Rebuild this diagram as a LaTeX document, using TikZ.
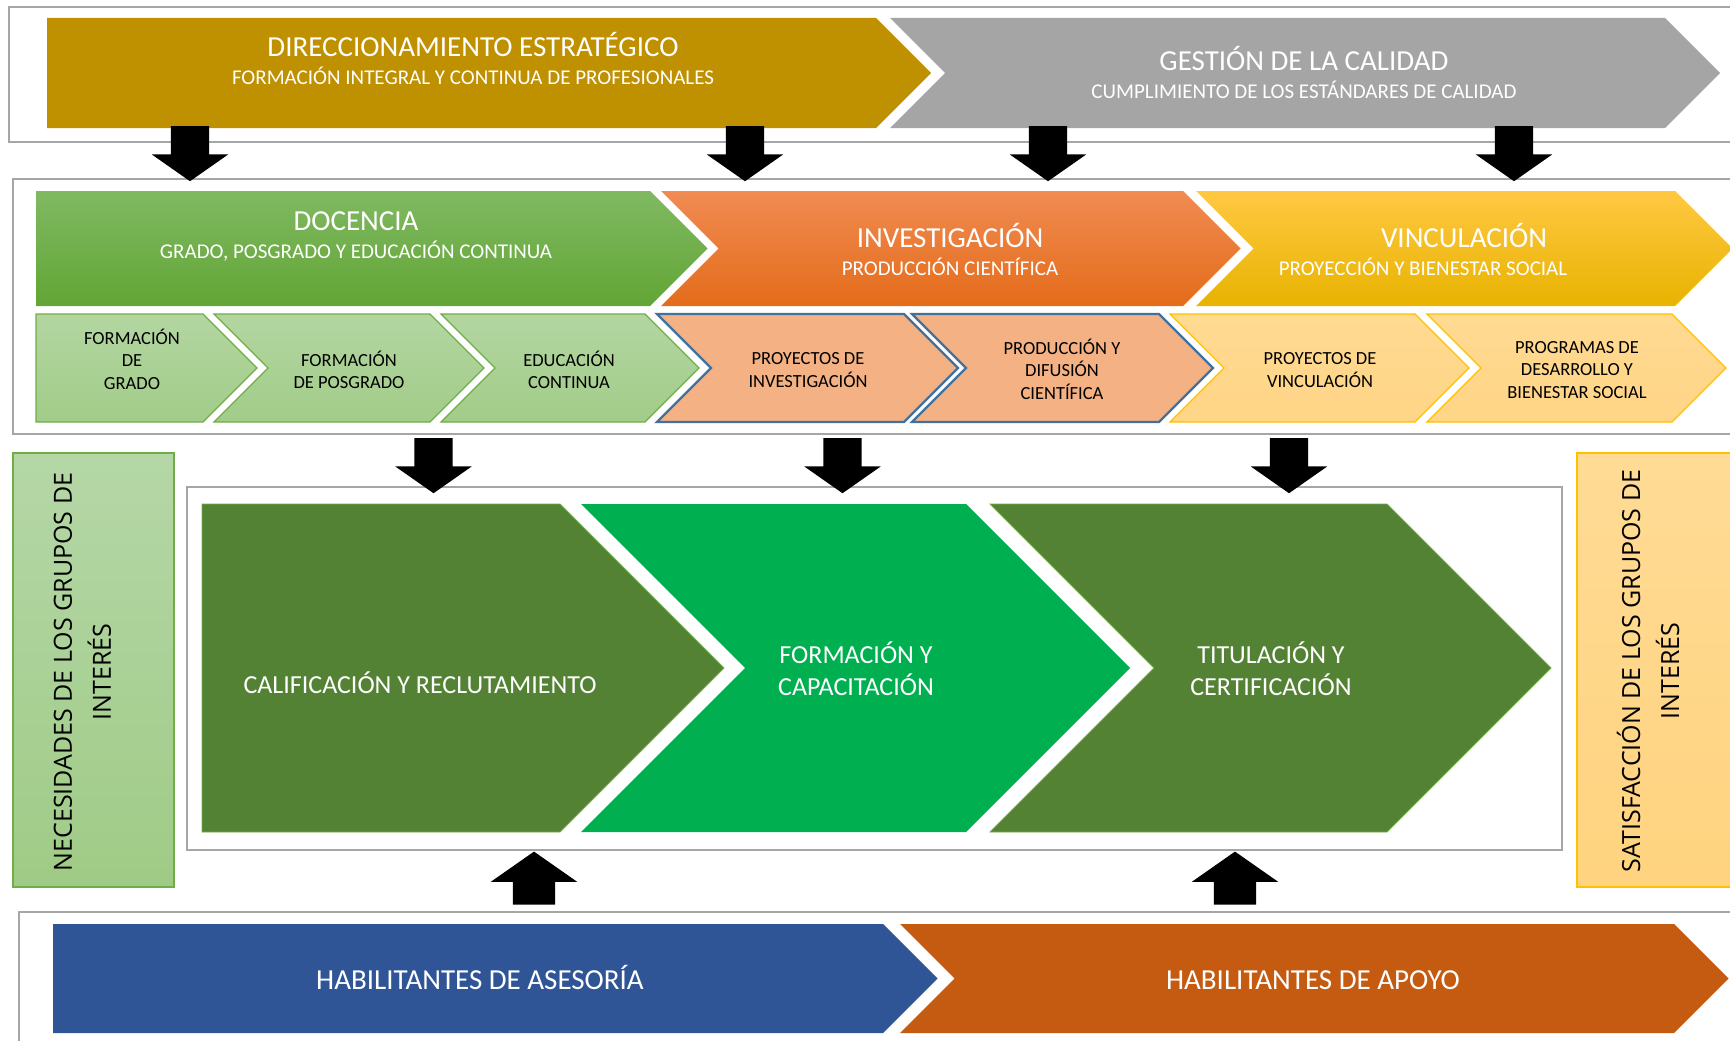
\documentclass[tikz,border=0pt]{standalone}
\usepackage{fontspec}
\setmainfont{Carlito}
\newfontfamily\sidefont{Open Sans}
\usetikzlibrary{shapes.arrows}

\definecolor{panelGray}{HTML}{A6A6A6}
\definecolor{goldD}{HTML}{BF9000}
\definecolor{grayQ}{HTML}{A5A5A5}
\definecolor{docTop}{HTML}{80B962}
\definecolor{docBot}{HTML}{62A535}
\definecolor{invTop}{HTML}{F08B52}
\definecolor{invMid}{HTML}{F47B2C}
\definecolor{invBot}{HTML}{E46C1A}
\definecolor{vinTop}{HTML}{FFC843}
\definecolor{vinMid}{HTML}{FFC000}
\definecolor{vinBot}{HTML}{E8B300}
\definecolor{subGTop}{HTML}{B3D6A1}
\definecolor{subGBot}{HTML}{A2CC89}
\definecolor{greenLine}{HTML}{70AD47}
\definecolor{subO}{HTML}{F4B183}
\definecolor{blueLine}{HTML}{41719C}
\definecolor{subYTop}{HTML}{FFDA92}
\definecolor{subYBot}{HTML}{FFD586}
\definecolor{yellowLine}{HTML}{FFC000}
\definecolor{oliveG}{HTML}{548235}
\definecolor{brightG}{HTML}{00B050}
\definecolor{blueB}{HTML}{2F5597}
\definecolor{orangeB}{HTML}{C55A11}
\definecolor{needTop}{HTML}{B5D7A7}
\definecolor{needBot}{HTML}{9FCB86}
\definecolor{satTop}{HTML}{FFDB95}
\definecolor{satBot}{HTML}{FFD37F}

% flat-left arrow band: x left, x end of body, y top, y bottom
\newcommand{\homeshape}[5][]{%
  \path[#1] (#2,#4) -- (#3,#4) -- ({#3+(#5-#4)/2},{(#4+#5)/2}) -- (#3,#5) -- (#2,#5) -- cycle;}
% notched band
\newcommand{\chevshape}[5][]{%
  \path[#1] (#2,#4) -- (#3,#4) -- ({#3+(#5-#4)/2},{(#4+#5)/2}) -- (#3,#5) -- (#2,#5)
    -- ({#2+(#5-#4)/2},{(#4+#5)/2}) -- cycle;}
\newcommand{\subtxt}{\fontsize{21}{28}\selectfont}

\begin{document}
\begin{tikzpicture}[x=1pt, y=-1pt,
  panel/.style={draw=panelGray, line width=2.5pt},
  title/.style={text=white, align=center, inner sep=0, font=\fontsize{29}{28}\selectfont},
  item/.style={align=center, inner sep=0, font=\fontsize{18.5}{22.5}\selectfont},
  stage/.style={text=white, align=center, inner sep=0, font=\fontsize{26}{32}\selectfont},
  side/.style={rotate=90, align=center, inner sep=0, font=\sidefont\fontsize{25}{39}\selectfont},
  subG/.style={top color=subGTop, bottom color=subGBot, draw=greenLine, line width=1.2pt},
  subOr/.style={fill=subO, draw=blueLine, line width=2.2pt},
  subY/.style={top color=subYTop, bottom color=subYBot, draw=yellowLine, line width=1.2pt},
  blk/.style={single arrow, draw=none, inner sep=0, single arrow tip angle=110, fill=black},
  down/.style={blk, rotate=-90, minimum height=55, inner ysep=19, single arrow head extend=19},
  up/.style={blk, rotate=90, minimum height=53, inner ysep=21, single arrow head extend=22}
]
  \useasboundingbox (0,0) rectangle (1730,1041);

  % frames
  \draw[panel] (9,7) rectangle (1745,142);
  \draw[panel] (13,179) rectangle (1745,434);
  \draw[panel] (187,487) rectangle (1562,850);
  \draw[panel] (19,912) rectangle (1745,1050);

  % strategic band
  \homeshape[fill=goldD]{47}{876}{18}{128}
  \chevshape[fill=grayQ]{890}{1665}{18}{128}
  \node[title] (dir) at (473,58.5) {DIRECCIONAMIENTO ESTRATÉGICO\\\subtxt FORMACIÓN INTEGRAL Y CONTINUA DE PROFESIONALES};
  \node[title] (cal) at (1304,72.5) {GESTIÓN DE LA CALIDAD\\\subtxt CUMPLIMIENTO DE LOS ESTÁNDARES DE CALIDAD};

  % substantive functions
  \homeshape[top color=docTop, bottom color=docBot]{36}{650}{191}{306}
  \chevshape[top color=invTop, middle color=invMid, bottom color=invBot]{661}{1183}{191}{306}
  \chevshape[top color=vinTop, middle color=vinMid, bottom color=vinBot]{1196}{1675}{191}{306}
  \node[title] (doc) at (356,236) {DOCENCIA\\\subtxt GRADO, POSGRADO Y EDUCACIÓN CONTINUA};
  \node[title] (inv) at (950,249) {INVESTIGACIÓN\\\subtxt PRODUCCIÓN CIENTÍFICA};
  \node[title] (vin) at (1464,249) {VINCULACIÓN\\\subtxt PROYECCIÓN Y BIENESTAR SOCIAL\hspace*{82pt}};

  \homeshape[subG]{36}{203}{314}{422}
  \chevshape[subG]{214}{430}{314}{422}
  \chevshape[subG]{441}{645}{314}{422}
  \chevshape[subOr]{657}{904}{314}{422}
  \chevshape[subOr]{912}{1159}{314}{422}
  \chevshape[subY]{1170}{1415}{314}{422}
  \chevshape[subY]{1427}{1672}{314}{422}
  \node[item] (grado) at (132,359) {FORMACIÓN\\DE\\GRADO};
  \node[item] (posg) at (349,370) {FORMACIÓN\\DE POSGRADO};
  \node[item] (educ) at (569,370) {EDUCACIÓN\\CONTINUA};
  \node[item] (pinv) at (808,370) {PROYECTOS DE\\INVESTIGACIÓN};
  \node[item] (difu) at (1062,369) {PRODUCCIÓN Y\\DIFUSIÓN\\CIENTÍFICA};
  \node[item] (pvin) at (1320,370) {PROYECTOS DE\\VINCULACIÓN};
  \node[item] (prog) at (1577,370) {PROGRAMAS DE\\DESARROLLO Y\\BIENESTAR SOCIAL};

  % stakeholders
  \path[top color=needTop, bottom color=needBot, draw=greenLine, line width=1.2pt] (13,453) rectangle (174,887);
  \path[top color=satTop, bottom color=satBot, draw=yellowLine, line width=1.2pt] (1577,453) rectangle (1745,887);
  \node[side] (need) at (82.5,672) {NECESIDADES DE LOS GRUPOS DE\\INTERÉS};
  \node[side] (sat) at (1648,671) {SATISFACCIÓN DE LOS GRUPOS DE\\INTERÉS};

  % key process
  \homeshape[fill=oliveG, draw=greenLine, line width=0.8pt]{202}{560}{504}{832}
  \chevshape[fill=brightG]{581}{966}{504}{832}
  \chevshape[fill=oliveG, draw=greenLine, line width=0.8pt]{990}{1387}{504}{832}
  \node[stage] (calif) at (420,683) {CALIFICACIÓN Y RECLUTAMIENTO};
  \node[stage] (form) at (856,669) {FORMACIÓN Y\\CAPACITACIÓN};
  \node[stage] (titu) at (1271,669) {TITULACIÓN Y\\CERTIFICACIÓN};

  % enablers
  \homeshape[fill=blueB]{53}{883}{924}{1033}
  \chevshape[fill=orangeB]{900}{1674}{924}{1033}
  \node[stage, font=\fontsize{29}{32}\selectfont] (ases) at (480,977.5) {HABILITANTES DE ASESORÍA};
  \node[stage, font=\fontsize{29}{32}\selectfont] (apoy) at (1313,980) {HABILITANTES DE APOYO};

  % block arrows
  \foreach \ax in {190,745,1048,1514}
    \node[down] (d\ax) at (\ax,147) {};
  \foreach \ax in {433.5,842.5,1289}
    \node[down] at (\ax,459) {};
  \node[up] (u1) at (534,885.5) {};
  \node[up] (u2) at (1235,885.5) {};
\end{tikzpicture}
\end{document}
